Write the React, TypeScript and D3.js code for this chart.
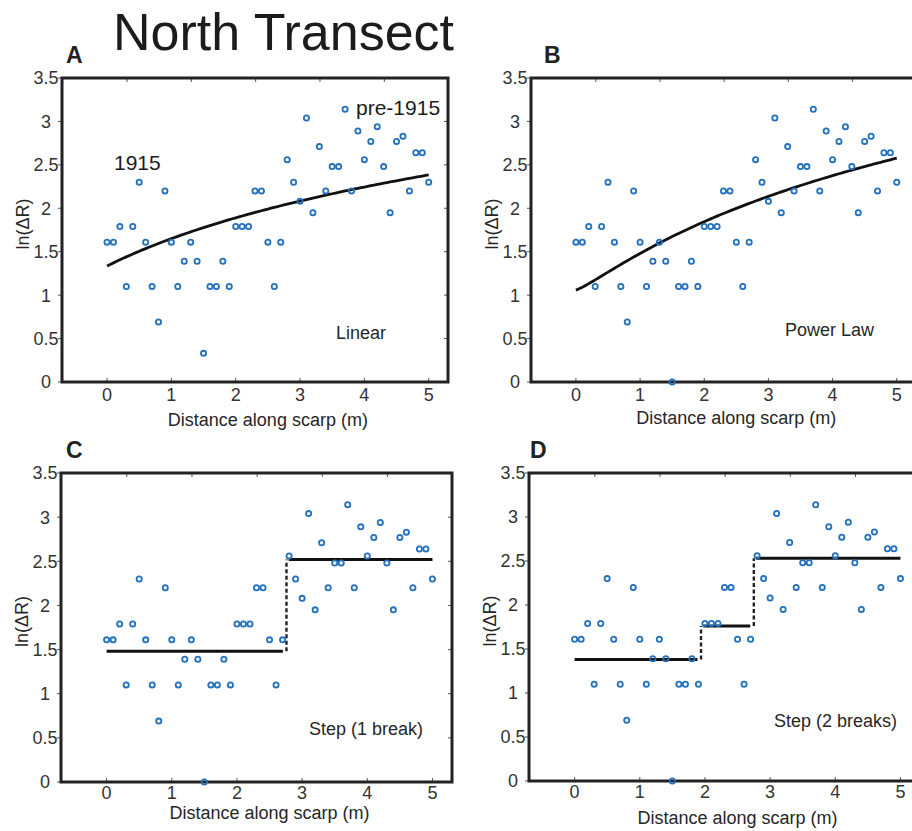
import React from "react";
import * as d3 from "d3";

// Sample positions along the scarp (m)
const distance = [
  0.0, 0.1, 0.2, 0.3, 0.4, 0.5, 0.6, 0.7, 0.8, 0.9,
  1.0, 1.1, 1.2, 1.3, 1.4, 1.5, 1.6, 1.7, 1.8, 1.9,
  2.0, 2.1, 2.2, 2.3, 2.4, 2.5, 2.6, 2.7, 2.8, 2.9,
  3.0, 3.1, 3.2, 3.3, 3.4, 3.5, 3.6, 3.7, 3.8, 3.9,
  4.0, 4.1, 4.2, 4.3, 4.4, 4.5, 4.6, 4.7, 4.8, 4.9,
  5.0,
];

// ln(ΔR) at each sample
const lnDR = [
  1.61, 1.61, 1.79, 1.10, 1.79, 2.30, 1.61, 1.10, 0.69, 2.20,
  1.61, 1.10, 1.39, 1.61, 1.39, 0.00, 1.10, 1.10, 1.39, 1.10,
  1.79, 1.79, 1.79, 2.20, 2.20, 1.61, 1.10, 1.61, 2.56, 2.30,
  2.08, 3.04, 1.95, 2.71, 2.20, 2.48, 2.48, 3.14, 2.20, 2.89,
  2.56, 2.77, 2.94, 2.48, 1.95, 2.77, 2.83, 2.20, 2.64, 2.64,
  2.30,
];

// Same series as plotted in the linear-model panel
const lnDRLinearPanel = [
  1.61, 1.61, 1.79, 1.10, 1.79, 2.30, 1.61, 1.10, 0.69, 2.20,
  1.61, 1.10, 1.39, 1.61, 1.39, 0.33, 1.10, 1.10, 1.39, 1.10,
  1.79, 1.79, 1.79, 2.20, 2.20, 1.61, 1.10, 1.61, 2.56, 2.30,
  2.08, 3.04, 1.95, 2.71, 2.20, 2.48, 2.48, 3.14, 2.20, 2.89,
  2.56, 2.77, 2.94, 2.48, 1.95, 2.77, 2.83, 2.20, 2.64, 2.64,
  2.30,
];

const xTicks = [0, 1, 2, 3, 4, 5];
const yTicks = [0, 0.5, 1, 1.5, 2, 2.5, 3, 3.5];
const topTicks = [0, 1, 2, 3, 4];
const topTickShift = 0.31;

// Model parameters
const linearFit = { a: 3.8, b: 1.41 }; // ln(a + b·x)
const powerFit = { a: 2.88, b: 1.514, p: 1.19 }; // ln(a + b·x^p)
const stepOneLevels = [1.48, 2.52];
const stepOneBreaks = [2.76];
const stepTwoLevels = [1.38, 1.76, 2.53];
const stepTwoBreaks = [1.94, 2.75];

const FONT = "'Liberation Sans', Arial, Helvetica, sans-serif";
const BLUE = "#2270be";
const INK = "#222";
const LABEL = "#333";

type Box = { left: number; right: number; top: number; bottom: number };

type PanelProps = {
  box: Box;
  letter: string;
  letterX: number;
  letterY: number;
  values: number[];
  tickLabelDy: number;
  titleDy: number;
  model: string;
  modelX: number;
  modelY: number;
  curve?: (x: number) => number;
  levels?: number[];
  breaks?: number[];
  children?: React.ReactNode;
};

function Panel(p: PanelProps) {
  const { box } = p;
  const x = d3.scaleLinear().domain([-0.7, 5.3]).range([box.left, box.right]);
  const y = d3.scaleLinear().domain([0, 3.5]).range([box.bottom, box.top]);
  const line = d3
    .line<[number, number]>()
    .x((d) => x(d[0]))
    .y((d) => y(d[1]));

  let curvePath: string | null = null;
  if (p.curve) {
    const f = p.curve;
    const pts = d3.range(0, 5.0001, 0.05).map((v) => [v, f(v)] as [number, number]);
    curvePath = line(pts);
  }

  const segs: { x0: number; x1: number; y: number }[] = [];
  const risers: { x: number; y0: number; y1: number }[] = [];
  if (p.levels && p.breaks) {
    const lv = p.levels;
    const br = p.breaks;
    lv.forEach((level, i) => {
      const x0 = i === 0 ? 0 : br[i - 1] + 0.035;
      const x1 = i === lv.length - 1 ? 5 : br[i] - 0.055;
      segs.push({ x0, x1, y: level });
    });
    br.forEach((b, i) => risers.push({ x: b, y0: lv[i], y1: lv[i + 1] }));
  }

  const mid = (box.top + box.bottom) / 2;
  const tickLen = 4;

  return (
    <g>
      <text
        x={p.letterX}
        y={p.letterY}
        fontSize={23}
        fontWeight="bold"
        fill={INK}
        fontFamily={FONT}
      >
        {p.letter}
      </text>

      {/* tick marks */}
      {yTicks.map((t) => (
        <g key={"y" + t}>
          <line x1={box.left - tickLen} x2={box.left} y1={y(t)} y2={y(t)} stroke="#555" strokeWidth={1} />
          <line x1={box.right - tickLen} x2={box.right} y1={y(t)} y2={y(t)} stroke="#555" strokeWidth={1} />
          <text
            x={box.left - 16}
            y={y(t)}
            dy="0.36em"
            textAnchor="middle"
            fontSize={18}
            fill={LABEL}
            fontFamily={FONT}
          >
            {t}
          </text>
        </g>
      ))}
      {xTicks.map((t) => (
        <g key={"x" + t}>
          <line x1={x(t)} x2={x(t)} y1={box.bottom} y2={box.bottom - tickLen} stroke="#555" strokeWidth={1} />
          <text
            x={x(t)}
            y={box.bottom + p.tickLabelDy}
            textAnchor="middle"
            fontSize={18}
            fill={LABEL}
            fontFamily={FONT}
          >
            {t}
          </text>
        </g>
      ))}
      {topTicks.map((t) => (
        <line
          key={"t" + t}
          x1={x(t + topTickShift)}
          x2={x(t + topTickShift)}
          y1={box.top}
          y2={box.top + tickLen}
          stroke="#555"
          strokeWidth={1}
        />
      ))}

      <rect
        x={box.left}
        y={box.top}
        width={box.right - box.left}
        height={box.bottom - box.top}
        fill="none"
        stroke={INK}
        strokeWidth={3}
      />

      {/* axis titles */}
      <text
        x={x(2.5)}
        y={box.bottom + p.titleDy}
        textAnchor="middle"
        fontSize={18}
        fill="#262626"
        fontFamily={FONT}
      >
        Distance along scarp (m)
      </text>
      <text
        transform={`translate(${box.left - 33},${mid - 6}) rotate(-90)`}
        textAnchor="middle"
        fontSize={18}
        fill="#262626"
        fontFamily={FONT}
      >
        ln(ΔR)
      </text>

      {/* model fits */}
      {curvePath && <path d={curvePath} fill="none" stroke="#111" strokeWidth={2.8} />}
      {segs.map((s, i) => (
        <line key={"s" + i} x1={x(s.x0)} x2={x(s.x1)} y1={y(s.y)} y2={y(s.y)} stroke="#111" strokeWidth={3} />
      ))}
      {risers.map((r, i) => (
        <line
          key={"r" + i}
          x1={x(r.x)}
          x2={x(r.x)}
          y1={y(r.y0)}
          y2={y(r.y1)}
          stroke="#222"
          strokeWidth={2.4}
          strokeDasharray="4 2.5"
        />
      ))}

      {/* observations */}
      {p.values.map((v, i) => (
        <circle
          key={"c" + i}
          cx={x(distance[i])}
          cy={y(v)}
          r={2.6}
          fill="none"
          stroke={BLUE}
          strokeWidth={1.8}
        />
      ))}

      <text x={p.modelX} y={p.modelY} fontSize={18} fill="#262626" fontFamily={FONT}>
        {p.model}
      </text>
      {p.children}
    </g>
  );
}

export default function App() {
  return (
    <svg
      width={912}
      height={831}
      viewBox="0 0 912 831"
      style={{ position: "absolute", left: 0, top: 0, background: "#fff" }}
    >
      <rect x={0} y={0} width={912} height={831} fill="#fff" />
      <text x={113} y={50} fontSize={52} fill="#1c1c1c" fontFamily={FONT}>
        North Transect
      </text>

      <Panel
        box={{ left: 62, right: 448, top: 78, bottom: 382 }}
        letter="A"
        letterX={66}
        letterY={63}
        values={lnDRLinearPanel}
        tickLabelDy={19}
        titleDy={44}
        model="Linear"
        modelX={336}
        modelY={339}
        curve={(v) => Math.log(linearFit.a + linearFit.b * v)}
      >
        <text x={114} y={170} fontSize={21} fill="#1c1c1c" fontFamily={FONT}>
          1915
        </text>
        <text x={356} y={115} fontSize={21} fill="#1c1c1c" fontFamily={FONT}>
          pre-1915
        </text>
      </Panel>

      <Panel
        box={{ left: 531, right: 916, top: 78, bottom: 382 }}
        letter="B"
        letterX={544}
        letterY={63}
        values={lnDR}
        tickLabelDy={19}
        titleDy={42}
        model="Power Law"
        modelX={785}
        modelY={336}
        curve={(v) => Math.log(powerFit.a + powerFit.b * Math.pow(v, powerFit.p))}
      />

      <Panel
        box={{ left: 61, right: 452, top: 473, bottom: 782 }}
        letter="C"
        letterX={66}
        letterY={458}
        values={lnDR}
        tickLabelDy={17}
        titleDy={37}
        model="Step (1 break)"
        modelX={309}
        modelY={735}
        levels={stepOneLevels}
        breaks={stepOneBreaks}
      />

      <Panel
        box={{ left: 529, right: 920, top: 473, bottom: 781 }}
        letter="D"
        letterX={530}
        letterY={458}
        values={lnDR}
        tickLabelDy={17}
        titleDy={43}
        model="Step (2 breaks)"
        modelX={774}
        modelY={727}
        levels={stepTwoLevels}
        breaks={stepTwoBreaks}
      />
    </svg>
  );
}
